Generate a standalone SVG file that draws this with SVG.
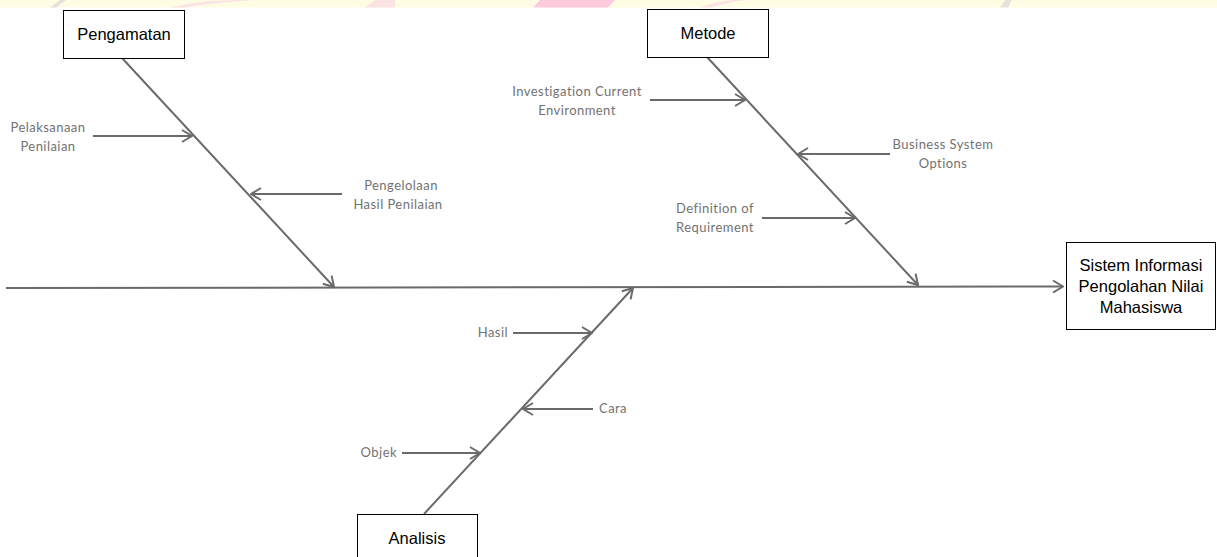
<svg xmlns="http://www.w3.org/2000/svg" width="1217" height="557" viewBox="0 0 1217 557">
<style>
.box{fill:#fff;stroke:#000;stroke-width:1}
.bt{font-family:"Liberation Sans",Arial,sans-serif;font-size:16.5px;fill:#000;text-anchor:middle}
.ln{stroke:#6a6a6a;stroke-width:2;fill:none}
.lb{font-family:Lato,"Open Sans",sans-serif;font-size:13px;letter-spacing:0.45px;fill:#727272}
</style>
<defs>
<marker id="ah" markerUnits="userSpaceOnUse" viewBox="0 0 12 14" refX="11" refY="7" markerWidth="12" markerHeight="14" orient="auto">
<path d="M1,1 L11,7 L1,13" fill="none" stroke="#6a6a6a" stroke-width="2"/>
</marker>
</defs>
<rect width="1217" height="557" fill="#fff"/>
<g id="watermark">
<rect x="0" y="0" width="1217" height="7.5" fill="#fefde4"/>
<path d="M50,7.5 L60,0 L66,0 L56,7.5Z" fill="#e6e0d8"/>
<path d="M170,7.5 Q200,0 240,0 L255,0 Q210,3 185,7.5Z" fill="#fbe3e3"/>
<path d="M365,7.5 L375,0 L395,0 L395,7.5Z" fill="#fbe3e3"/>
<path d="M533,7.5 L540,0 L615,0 L608,7.5Z" fill="#fdcbdd"/>
<path d="M700,7.5 Q720,0 735,0 L745,0 Q725,3 712,7.5Z" fill="#fbe3e3"/>
<path d="M1000,7.5 L1005,0 L1012,0 L1008,7.5Z" fill="#e8e2da"/>
</g>
<g id="connectors">
<line class="ln" x1="6" y1="288" x2="1063" y2="286.5" marker-end="url(#ah)"/>
<line class="ln" x1="122" y1="58" x2="334" y2="287" marker-end="url(#ah)"/>
<line class="ln" x1="707" y1="57" x2="918" y2="285" marker-end="url(#ah)"/>
<line class="ln" x1="424" y1="514" x2="633" y2="288" marker-end="url(#ah)"/>
<line class="ln" x1="93" y1="136" x2="192" y2="136" marker-end="url(#ah)"/>
<line class="ln" x1="342" y1="194" x2="251" y2="194" marker-end="url(#ah)"/>
<line class="ln" x1="650" y1="100" x2="745" y2="100" marker-end="url(#ah)"/>
<line class="ln" x1="890" y1="154" x2="798" y2="154" marker-end="url(#ah)"/>
<line class="ln" x1="762" y1="218" x2="855" y2="218" marker-end="url(#ah)"/>
<line class="ln" x1="513" y1="333" x2="592" y2="333" marker-end="url(#ah)"/>
<line class="ln" x1="593" y1="409" x2="523" y2="409" marker-end="url(#ah)"/>
<line class="ln" x1="402" y1="453" x2="480" y2="453" marker-end="url(#ah)"/>
</g>
<g id="pengamatan">
<rect class="box" x="63.5" y="10.5" width="121" height="48"/>
<text class="bt" x="124" y="40">Pengamatan</text>
</g>
<g id="metode">
<rect class="box" x="647.5" y="9.5" width="121" height="48"/>
<text class="bt" x="708" y="39">Metode</text>
</g>
<g id="analisis">
<rect class="box" x="357.5" y="514.5" width="120" height="50"/>
<text class="bt" x="417" y="544">Analisis</text>
</g>
<g id="sistem">
<rect class="box" x="1066.5" y="242.5" width="149" height="87"/>
<text class="bt" x="1141" y="271">Sistem Informasi</text>
<text class="bt" x="1141" y="292">Pengolahan Nilai</text>
<text class="bt" x="1141" y="313">Mahasiswa</text>
</g>
<g id="labels">
<text class="lb" x="48" y="132" text-anchor="middle">Pelaksanaan</text>
<text class="lb" x="48" y="151" text-anchor="middle">Penilaian</text>
<text class="lb" x="401" y="190" text-anchor="middle">Pengelolaan</text>
<text class="lb" x="398" y="209" text-anchor="middle">Hasil Penilaian</text>
<text class="lb" x="577" y="96" text-anchor="middle">Investigation Current</text>
<text class="lb" x="577" y="115" text-anchor="middle">Environment</text>
<text class="lb" x="943" y="149" text-anchor="middle">Business System</text>
<text class="lb" x="943" y="168" text-anchor="middle">Options</text>
<text class="lb" x="715" y="213" text-anchor="middle">Definition of</text>
<text class="lb" x="715" y="232" text-anchor="middle">Requirement</text>
<text class="lb" x="508" y="337" text-anchor="end">Hasil</text>
<text class="lb" x="599" y="413">Cara</text>
<text class="lb" x="397" y="457" text-anchor="end">Objek</text>
</g>
</svg>
